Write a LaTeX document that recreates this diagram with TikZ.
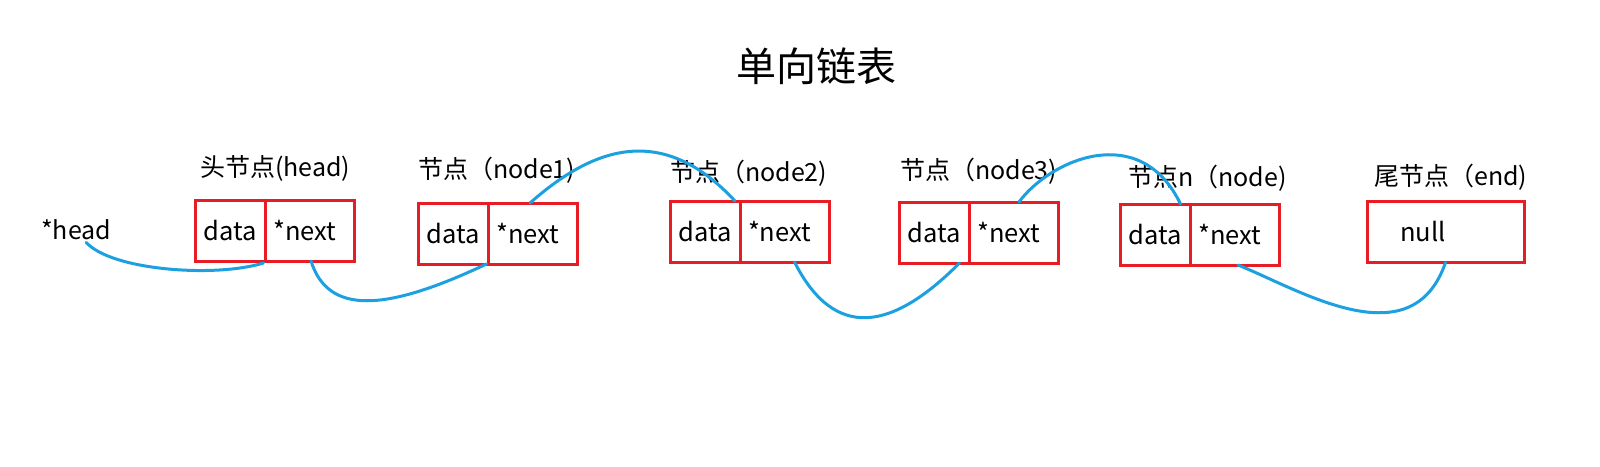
\documentclass[tikz,border=0pt]{standalone}
\usepackage{fontspec}
\setmainfont{Noto Sans CJK SC}
\definecolor{boxred}{RGB}{232,28,36}
\definecolor{linkblue}{RGB}{28,160,224}
\begin{document}
\begin{tikzpicture}[x=1pt,y=-1pt,
  cell/.style={draw=boxred, line width=3pt, minimum height=61pt, inner sep=0pt, outer sep=0pt,
    font=\fontsize{25.5}{28}\selectfont},
  datacell/.style={cell, minimum width=70pt},
  nextcell/.style={cell, inner xsep=8pt, text width=73pt, align=left},
  lbl/.style={anchor=west, inner sep=0pt, font=\fontsize{25}{28}\selectfont},
  link/.style={draw=linkblue, line width=3pt, line cap=round}]
\useasboundingbox (0,0) rectangle (1600,466);

\node[inner sep=0pt, font=\fontsize{40}{44}\selectfont] (title) at (816,66) {单向链表};

\node[lbl] (headtxt) at (41,230) {*head};

% head node
\node[datacell] (d1) at (230.5,230.5) {data};
\node[nextcell, anchor=west] (n1) at (d1.east) {*next};
\node[lbl] (l1) at (200,168) {头节点(head)};

% node1
\node[datacell] (d2) at (453.5,233.5) {data};
\node[nextcell, anchor=west] (n2) at (d2.east) {*next};
\node[lbl] (l2) at (418,170) {节点（node1)};

% node2
\node[datacell] (d3) at (705,231.5) {data};
\node[nextcell, anchor=west] (n3) at (d3.east) {*next};
\node[lbl] (l3) at (670,173) {节点（node2)};

% node3
\node[datacell] (d4) at (934.5,232.5) {data};
\node[nextcell, anchor=west] (n4) at (d4.east) {*next};
\node[lbl] (l4) at (900,171) {节点（node3)};

% node n
\node[datacell] (d5) at (1155.5,234.5) {data};
\node[nextcell, anchor=west] (n5) at (d5.east) {*next};
\node[lbl] (l5) at (1128,178) {节点n（node)};

% end node
\node[cell, minimum width=157pt, inner xsep=33pt, text width=91pt, align=left] (e6) at (1445.5,232) {null};
\node[lbl] (l6) at (1374,177) {尾节点（end)};

% links
\coordinate (s1) at ([xshift=10pt,yshift=-2pt]headtxt.south);
\draw[link] (s1) .. controls ++(25,28) and (215,278) .. ([xshift=-2pt,yshift=-2pt]d1.south east);
\draw[link] ([xshift=1pt]n1.south) .. controls (328,315) and (385,312) .. ([xshift=-2pt]d2.south east);
\draw[link] ([xshift=-3pt]n2.north) .. controls (590,150) and (660,120) .. ([xshift=-5pt]d3.north east);
\draw[link] ([xshift=10pt]n3.south) .. controls (835,342) and (893,330) .. ([xshift=-10pt]d4.south east);
\draw[link] ([xshift=5pt]n4.north) .. controls (1050,160) and (1140,120) .. ([xshift=-10pt]d5.north east);
\draw[link] ([xshift=3pt]n5.south) .. controls (1300,290) and (1412,360) .. (e6.south);
\end{tikzpicture}
\end{document}
